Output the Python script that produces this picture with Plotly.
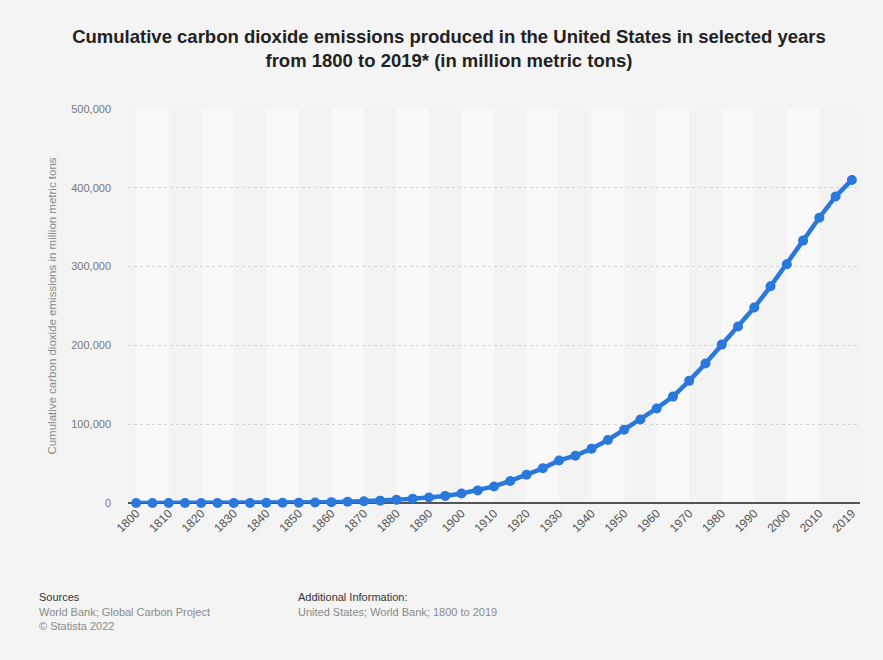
import plotly.graph_objects as go

years = [str(y) for y in range(1800, 2016, 5)] + ["2019"]
emissions = [
    1, 3, 7, 12, 20, 35, 60, 100, 170, 280,            # 1800-1845
    450, 700, 1100, 1600, 2200, 3000, 4000, 5500, 7000, 9000,  # 1850-1895
    12000, 16000, 21000, 28000, 36000, 44000, 54000, 60000, 69000, 80000,  # 1900-1945
    93000, 106000, 120000, 135000, 155000, 177000, 201000, 224000, 248000, 275000,  # 1950-1995
    303000, 333000, 362000, 389000, 410000,  # 2000-2019
]
tick_years = [str(y) for y in range(1800, 2011, 10)] + ["2019"]
y_ticks = [0, 100000, 200000, 300000, 400000, 500000]

title_text = ("Cumulative carbon dioxide emissions produced in the United States in selected years"
              "<br>from 1800 to 2019* (in million metric tons)")
y_title = "Cumulative carbon dioxide emissions in million metric tons"

BLUE = "#2a78dc"
FONT = "Liberation Sans, Arial, sans-serif"

fig = go.Figure()
fig.add_trace(go.Scatter(
    x=years, y=emissions, mode="lines+markers",
    line=dict(color=BLUE, width=4.5),
    marker=dict(color=BLUE, size=10),
    cliponaxis=False,
    hoverinfo="x+y",
))

# alternating decade bands (light band on every other decade)
shapes = []
n = len(years)
for i in range(0, n - 1, 2):
    if (i // 2) % 2 == 0:
        shapes.append(dict(type="rect", xref="x", yref="paper",
                           x0=i, x1=i + 2, y0=0, y1=1,
                           fillcolor="#f9f9f9", line=dict(width=0), layer="below"))

fig.update_layout(
    width=883, height=660,
    paper_bgcolor="#f4f4f4", plot_bgcolor="#f3f3f3",
    margin=dict(l=128, r=23, t=109, b=157),
    showlegend=False,
    shapes=shapes,
    font=dict(family=FONT, color="#666666", size=11),
    title=dict(text=title_text, x=449 / 883, xref="container", xanchor="center",
               y=0.935, yref="container", yanchor="top",
               font=dict(family=FONT, size=18.5, color="#222222", weight="bold")),
    xaxis=dict(type="category", range=[-0.5, n - 0.5],
               tickmode="array", tickvals=tick_years, ticktext=tick_years,
               tickangle=-45, showgrid=False, zeroline=False,
               showline=False, ticks="", tickfont=dict(size=12, color="#555555")),
    yaxis=dict(range=[0, 500000], tickvals=y_ticks, tickformat=",",
               showgrid=True, gridcolor="#d4d4d4", griddash="dot", gridwidth=1,
               zeroline=True, zerolinecolor="#555555", zerolinewidth=1.5,
               ticks="", ticklabelstandoff=16,
               tickfont=dict(size=11, color="#777777"),
               title=dict(text=y_title, standoff=12,
                          font=dict(size=11.5, color="#8a8a8a"))),
    annotations=[
        dict(text="Sources", xref="paper", yref="paper", x=(37 - 128) / 732, y=(503 - 589) / 394,
             xanchor="left", yanchor="top", showarrow=False,
             font=dict(size=11, color="#333333")),
        dict(text="World Bank; Global Carbon Project<br>© Statista 2022", xref="paper", yref="paper",
             x=(37 - 128) / 732, y=(503 - 604) / 394, xanchor="left", yanchor="top",
             showarrow=False, align="left", font=dict(size=11, color="#8a8a8a")),
        dict(text="Additional Information:", xref="paper", yref="paper", x=(296 - 128) / 732,
             y=(503 - 589) / 394, xanchor="left", yanchor="top", showarrow=False,
             font=dict(size=11, color="#333333")),
        dict(text="United States; World Bank; 1800 to 2019", xref="paper", yref="paper",
             x=(296 - 128) / 732, y=(503 - 604) / 394, xanchor="left", yanchor="top",
             showarrow=False, align="left", font=dict(size=11, color="#8a8a8a")),
    ],
)

fig.write_html("out.html")
